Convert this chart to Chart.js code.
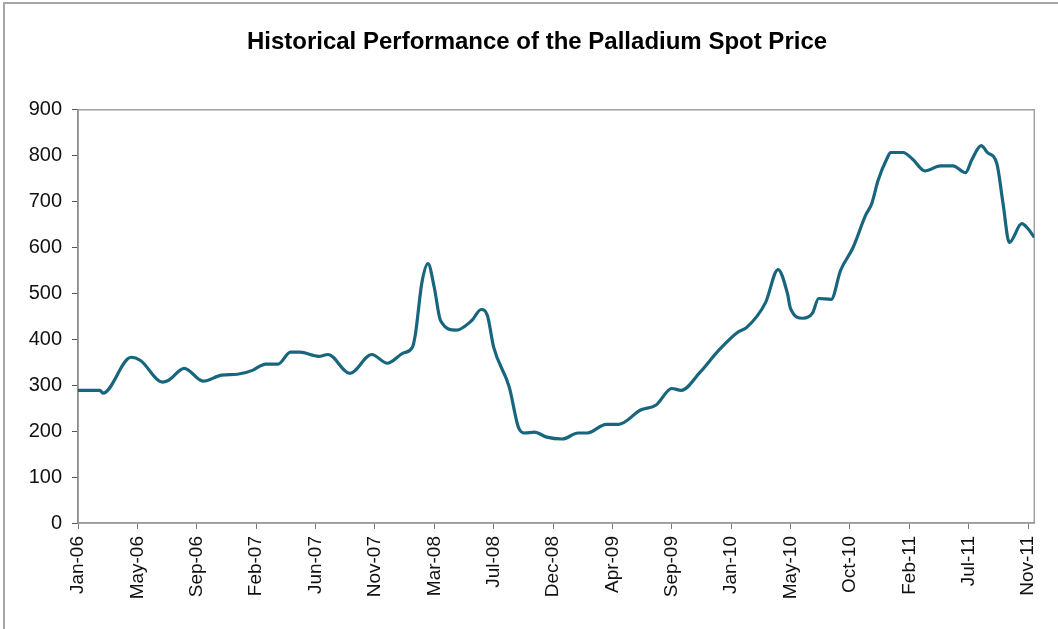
<!DOCTYPE html>
<html>
<head>
<meta charset="utf-8">
<script src="https://cdn.jsdelivr.net/npm/chart.js@4"></script>
<style>
  html, body { margin: 0; padding: 0; background: #fff; }
  #wrap { width: 1058px; height: 629px; }
</style>
</head>
<body>
<div id="wrap"><canvas id="palladium" width="1058" height="629"></canvas></div>
<script>
// weekly series, x = weeks since the first week of Jan-06
const weeks = [0, 7, 8, 17, 20, 27, 29, 34, 40, 46, 51, 56, 58, 60, 64, 68, 71, 77, 80, 87,
  94, 99, 104, 107, 108, 110, 112, 114, 116, 121, 126, 129, 131, 133, 138, 141, 143, 146, 150, 155,
  160, 163, 169, 173, 180, 185, 190, 193, 199, 205, 211, 214, 220, 224, 227, 228, 232, 235, 237, 241,
  244, 248, 252, 254, 256, 259, 260, 264, 267, 271, 276, 280, 284, 286, 289, 291, 294, 296, 298, 302,
  304, 306];
const price = [289, 289, 283, 361, 354, 307, 311, 337, 309, 322, 324, 333, 341, 346, 346, 372, 372, 363, 367, 326,
  367, 348, 370, 383, 413, 522, 565, 513, 441, 420, 441, 465, 452, 383, 296, 207, 196, 198, 187, 183,
  196, 196, 215, 215, 246, 257, 293, 289, 328, 376, 415, 426, 480, 552, 500, 467, 446, 457, 489, 487,
  550, 600, 670, 696, 746, 796, 807, 807, 793, 767, 778, 778, 763, 791, 822, 807, 783, 696, 611, 652,
  641, 622];

const tickLabels = ["Jan-06", "May-06", "Sep-06", "Feb-07", "Jun-07", "Nov-07", "Mar-08", "Jul-08", "Dec-08",
  "Apr-09", "Sep-09", "Jan-10", "May-10", "Oct-10", "Feb-11", "Jul-11", "Nov-11"];
const weeksPerTick = 19;

const font = "'Liberation Sans', Arial, sans-serif";

const frame = {
  id: 'frame',
  beforeDraw(chart) {
    const c = chart.ctx;
    c.save();
    c.strokeStyle = '#a6a6a6';
    c.lineWidth = 2;
    c.beginPath();
    c.moveTo(4, 640); c.lineTo(4, 3); c.lineTo(1070, 3);
    c.stroke();
    c.restore();
  },
  beforeDatasetsDraw(chart) {
    const a = chart.chartArea, c = chart.ctx;
    c.save();
    c.strokeStyle = '#a0a0a0';
    c.lineWidth = 1.5;
    c.strokeRect(a.left, a.top, a.right - a.left, a.bottom - a.top);
    c.restore();
  }
};

new Chart("palladium", {
  type: "line",
  data: {
    datasets: [{
      data: weeks.map((w, i) => ({x: w, y: price[i]})),
      borderColor: "#17667d",
      borderWidth: 3.2,
      pointRadius: 0,
      fill: false,
      cubicInterpolationMode: 'monotone'
    }]
  },
  options: {
    responsive: false,
    animation: false,
    layout: {padding: {left: 16, right: 0, top: 0, bottom: 0}},
    plugins: {
      legend: {display: false},
      tooltip: {enabled: false},
      title: {
        display: true,
        text: "Historical Performance of the Palladium Spot Price",
        color: "#000",
        font: {family: font, size: 24, weight: 'bold'},
        padding: {top: 28, bottom: 53}
      }
    },
    scales: {
      x: {
        type: 'linear',
        min: 0,
        max: 306,
        afterBuildTicks: s => { s.ticks = tickLabels.map((_, i) => ({value: i * weeksPerTick})); },
        afterFit: s => { s.height = 106; },
        grid: {drawOnChartArea: false, tickLength: 6, tickColor: '#777'},
        border: {color: '#888', width: 1.5},
        ticks: {
          autoSkip: false,
          minRotation: 90,
          maxRotation: 90,
          padding: 7,
          color: '#111',
          font: {family: font, size: 19},
          callback: v => tickLabels[Math.round(v / weeksPerTick)]
        }
      },
      y: {
        min: 0,
        max: 900,
        afterFit: s => { s.width = 62; },
        grid: {drawOnChartArea: false, tickLength: 6, tickColor: '#555'},
        border: {color: '#555', width: 1.5},
        ticks: {
          stepSize: 100,
          padding: 10,
          color: '#111',
          font: {family: font, size: 20}
        }
      },
      // empty margin on the right of the plot area
      gutter: {
        position: 'right',
        afterFit: s => { s.width = 23; },
        grid: {display: false},
        border: {display: false},
        ticks: {display: false}
      }
    }
  },
  plugins: [frame]
});
</script>
</body>
</html>
